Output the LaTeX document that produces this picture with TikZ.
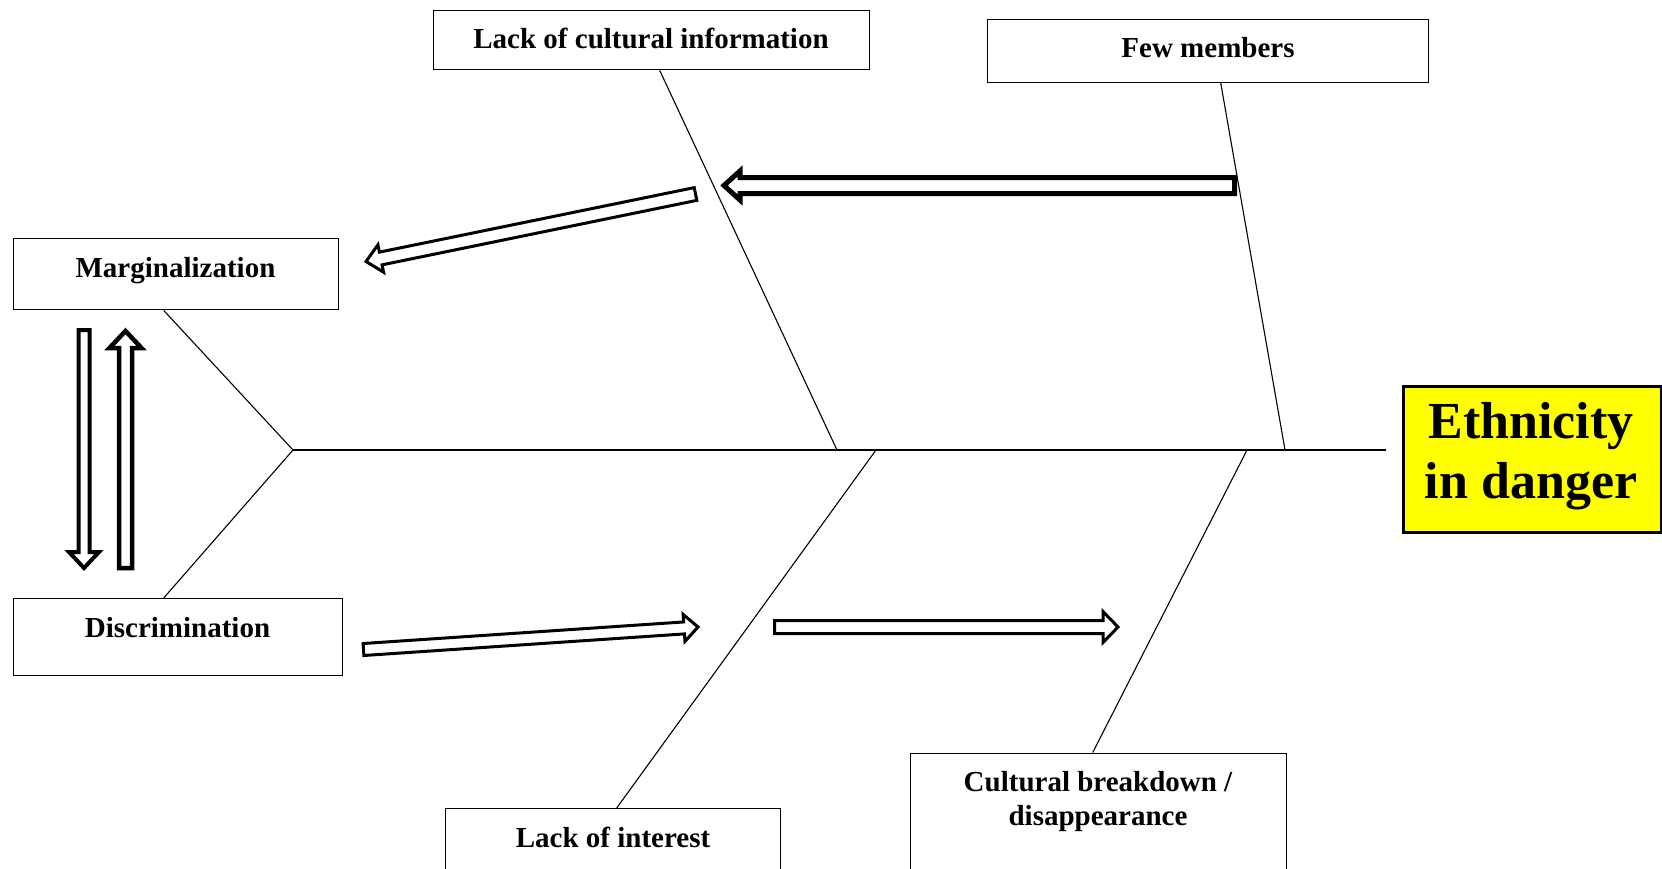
\documentclass[tikz,border=0pt]{standalone}
\usepackage{fontspec}
\setmainfont{Liberation Serif}
\usetikzlibrary{calc}
\tikzset{
  pics/barrow/.style args={#1/#2/#3/#4}{
    code={\draw[fill=white, line join=miter]
      (0,-#2) -- ({#1-#4},-#2) -- ({#1-#4},-#3) -- (#1,0) -- ({#1-#4},#3) -- ({#1-#4},#2) -- (0,#2) -- cycle;}
  }
}
\begin{document}
\begin{tikzpicture}[x=1pt,y=-1pt,
  box/.style={draw, line width=1.4pt, fill=white, inner sep=0pt, anchor=north west},
  lbl/.style={font=\fontsize{29}{34}\selectfont\bfseries, anchor=base, inner sep=0pt},
  big/.style={font=\fontsize{52}{60}\selectfont\bfseries, anchor=base, inner sep=0pt},
  bone/.style={line width=1.1pt}]
\useasboundingbox (0,0) rectangle (1662,868);
\clip (0,0) rectangle (1662,868);
\fill[white] (0,0) rectangle (1662,868);

% boxes
\node[box, minimum width=436.5pt, minimum height=59.5pt] (lci) at (432.5,9.5) {};
\node[box, minimum width=441pt, minimum height=62.5pt] (fm) at (987,19) {};
\node[box, minimum width=325pt, minimum height=71pt] (marg) at (13,238) {};
\node[box, minimum width=329pt, minimum height=77pt] (disc) at (13,598) {};
\node[box, minimum width=335pt, minimum height=92pt] (loi) at (445,808) {};
\node[box, minimum width=376.5pt, minimum height=148pt] (cb) at (909.5,752.5) {};
\node[box, line width=3pt, fill={rgb,255:red,255;green,255;blue,0}, minimum width=258pt, minimum height=146pt] (eth) at (1402,385) {};

% labels
\node[lbl] (tlci) at (651,48) {Lack of cultural information};
\node[lbl] (tfm) at (1208,57) {Few members};
\node[lbl] (tmarg) at (175.5,277) {Marginalization};
\node[lbl] (tdisc) at (177.5,637) {Discrimination};
\node[lbl] (tloi) at (613,847) {Lack of interest};
\node[lbl] (tcb1) at (1098,791) {Cultural breakdown /};
\node[lbl] (tcb2) at (1098,825) {disappearance};
\node[big] (teth1) at (1531,438) {Ethnicity};
\node[big] (teth2) at (1531,498) {in danger};

% spine and bones
\coordinate (head) at (293,450);
\coordinate (spineend) at (1386,450);
\coordinate (s1) at (837,450);
\coordinate (s2) at (1285,450);
\coordinate (s3) at (876,450);
\coordinate (s4) at (1247,450);
\draw[bone] (head) -- (spineend);
\draw[bone] ([xshift=-12.5pt]marg.south) -- (head);
\draw[bone] (head) -- ([xshift=-14.5pt]disc.north);
\draw[bone] ([xshift=8.25pt]lci.south) -- (s1);
\draw[bone] ([xshift=12.5pt]fm.south) -- (s2);
\draw[bone] (s3) -- ([xshift=3.5pt]loi.north);
\draw[bone] (s4) -- ([xshift=-5.75pt]cb.north);

% block arrows
\pic[rotate=180, line width=5pt] at (1234.5,185.5) {barrow=510.5/8/14.5/16};
\pic[rotate=191.58, line width=3pt] at (695.5,194) {barrow=336.3/6.5/14/15};
\pic[rotate=3.85, line width=3pt] at (363.5,649.5) {barrow=335.3/6/13.5/14};
\pic[line width=3pt] at (774.5,627) {barrow=343.5/6.5/15.5/15};
\pic[rotate=-90, line width=4pt] at (84,330) {barrow=238/5.5/15/16};
\pic[rotate=90, line width=4.5pt] at (125.5,568) {barrow=237/6.5/16/17};
\end{tikzpicture}
\end{document}
